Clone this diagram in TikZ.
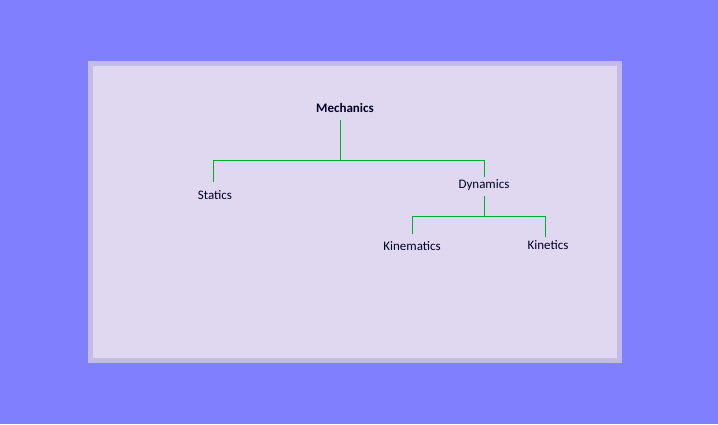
\documentclass[tikz,border=0pt]{standalone}
\usepackage{fontspec}
\setmainfont{Carlito}
\begin{document}
\begin{tikzpicture}[x=1pt,y=-1pt,
  lbl/.style={inner sep=0pt,font=\fontsize{13}{15}\selectfont,text=black!85!blue},
  conn/.style={draw=green!60!black!80!cyan,line width=1pt}]
\fill[fill={rgb,255:red,128;green,128;blue,255}] (0,0) rectangle (718,424);
\useasboundingbox (0,0) rectangle (718,424);
\filldraw[fill={rgb,255:red,224;green,216;blue,240},draw={rgb,255:red,196;green,188;blue,232},line width=5pt] (90.5,63.5) rectangle (619.5,360.5);
\node[lbl,font=\fontsize{13}{15}\selectfont\bfseries] (mech) at (345,108) {Mechanics};
\node[lbl] (stat) at (215,195) {Statics};
\node[lbl] (dyn) at (484,185) {Dynamics};
\node[lbl] (kinem) at (412,246) {Kinematics};
\node[lbl] (kinet) at (548,245) {Kinetics};
\coordinate (m0) at (340,120); \coordinate (m1) at (340,160);
\coordinate (s0) at (213,160); \coordinate (s1) at (213,182);
\coordinate (d0) at (484,160); \coordinate (d1) at (484,177);
\coordinate (e0) at (484,196); \coordinate (e1) at (484,216);
\coordinate (k0) at (412,216); \coordinate (k1) at (412,234);
\coordinate (t0) at (545,216); \coordinate (t1) at (545,237);
\draw[conn] (m0) -- (m1);
\draw[conn] (s1) -- (s0) -- (d0) -- (d1);
\draw[conn] (e0) -- (e1);
\draw[conn] (k1) -- (k0) -- (t0) -- (t1);
\end{tikzpicture}
\end{document}
